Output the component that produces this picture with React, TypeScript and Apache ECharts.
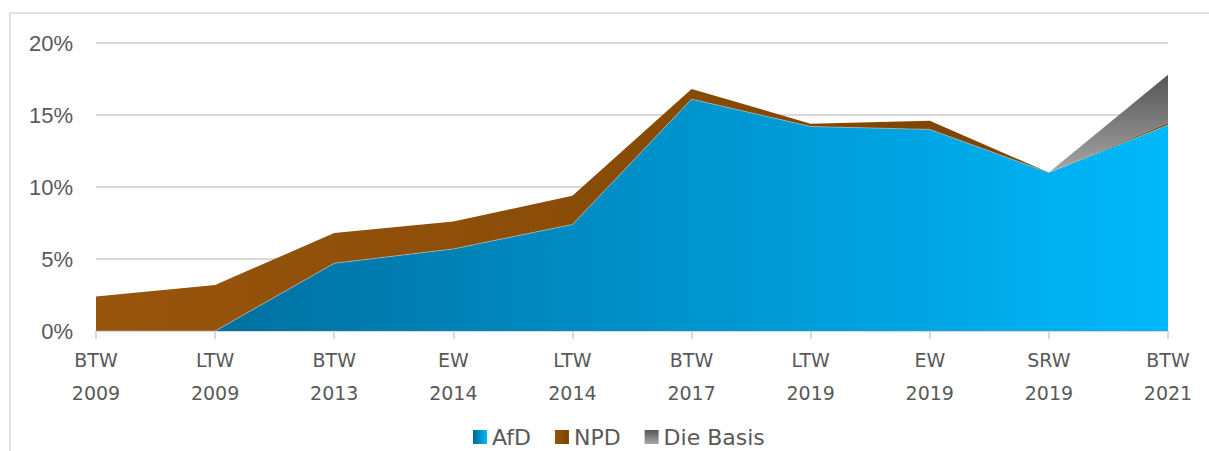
import React, { useEffect, useRef } from "react";
import * as echarts from "echarts";

const categories = ["BTW\n2009", "LTW\n2009", "BTW\n2013", "EW\n2014", "LTW\n2014", "BTW\n2017", "LTW\n2019", "EW\n2019", "SRW\n2019", "BTW\n2021"];
const afd = [0, 0, 4.7, 5.7, 7.4, 16.1, 14.2, 14.0, 11.0, 14.3];
const npd = [2.4, 3.2, 2.1, 1.9, 2.0, 0.7, 0.2, 0.6, 0, 0.15];
const dieBasis = [null, null, null, null, null, null, null, null, 0, 3.35];
const yTicks = [0, 5, 10, 15, 20];

export default function App() {
  const ref = useRef<HTMLDivElement>(null);
  useEffect(() => {
    if (!ref.current) return;
    const chart = echarts.init(ref.current, undefined, { renderer: "svg" });
    const afdGrad = new echarts.graphic.LinearGradient(0, 0, 1, 0, [
      { offset: 0, color: "#006794" },
      { offset: 1, color: "#00B8FB" },
    ]);
    const npdGrad = new echarts.graphic.LinearGradient(0, 0, 1, 0, [
      { offset: 0, color: "#98550C" },
      { offset: 1, color: "#784200" },
    ]);
    const basisGrad = new echarts.graphic.LinearGradient(0, 0, 0, 1, [
      { offset: 0, color: "#555555" },
      { offset: 1, color: "#A6A6A6" },
    ]);
    chart.setOption({
      animation: false,
      graphic: [
        {
          type: "rect",
          shape: { x: 10, y: 13, width: 1260, height: 500 },
          style: { fill: "none", stroke: "#D9D9D9", lineWidth: 1.5 },
          silent: true,
        },
      ],
      grid: { left: 96, right: 41, top: 43, bottom: 120, containLabel: false },
      legend: {
        top: 421,
        left: 468,
        itemWidth: 14,
        itemHeight: 14,
        itemGap: 24,
        icon: "rect",
        textStyle: { fontFamily: "DejaVu Sans", fontSize: 22, color: "#595959" },
        data: ["AfD", "NPD", "Die Basis"],
      },
      xAxis: {
        type: "category",
        boundaryGap: false,
        data: categories,
        axisLine: { lineStyle: { color: "#D9D9D9", width: 2 } },
        axisTick: { show: true, length: 8, alignWithLabel: true, lineStyle: { color: "#D9D9D9", width: 2 } },
        axisLabel: {
          fontFamily: "DejaVu Sans",
          fontSize: 19,
          color: "#595959",
          lineHeight: 33,
          margin: 12,
          interval: 0,
        },
        splitLine: { show: false },
      },
      yAxis: {
        type: "value",
        min: yTicks[0],
        max: yTicks[yTicks.length - 1],
        interval: 5,
        axisLine: { show: false },
        axisTick: { show: false },
        axisLabel: {
          formatter: "{value}%",
          fontFamily: "Liberation Sans, Arial, sans-serif",
          fontSize: 22,
          color: "#595959",
          margin: 23,
        },
        splitLine: { lineStyle: { color: "#D9D9D9", width: 2 } },
      },
      series: [
        {
          name: "AfD",
          type: "line",
          stack: "total",
          data: afd,
          symbol: "none",
          lineStyle: { width: 0.6, color: "#B0C8D0" },
          itemStyle: { color: afdGrad },
          areaStyle: { color: afdGrad, opacity: 1 },
        },
        {
          name: "NPD",
          type: "line",
          stack: "total",
          data: npd,
          symbol: "none",
          lineStyle: { width: 0 },
          itemStyle: { color: npdGrad },
          areaStyle: { color: npdGrad, opacity: 1 },
        },
        {
          name: "Die Basis",
          type: "line",
          stack: "total",
          data: dieBasis,
          symbol: "none",
          lineStyle: { width: 0 },
          itemStyle: { color: basisGrad },
          areaStyle: { color: basisGrad, opacity: 1 },
        },
      ],
    });
    return () => chart.dispose();
  }, []);
  return <div ref={ref} style={{ width: 1209, height: 451, position: "absolute", left: 0, top: 0 }} />;
}
